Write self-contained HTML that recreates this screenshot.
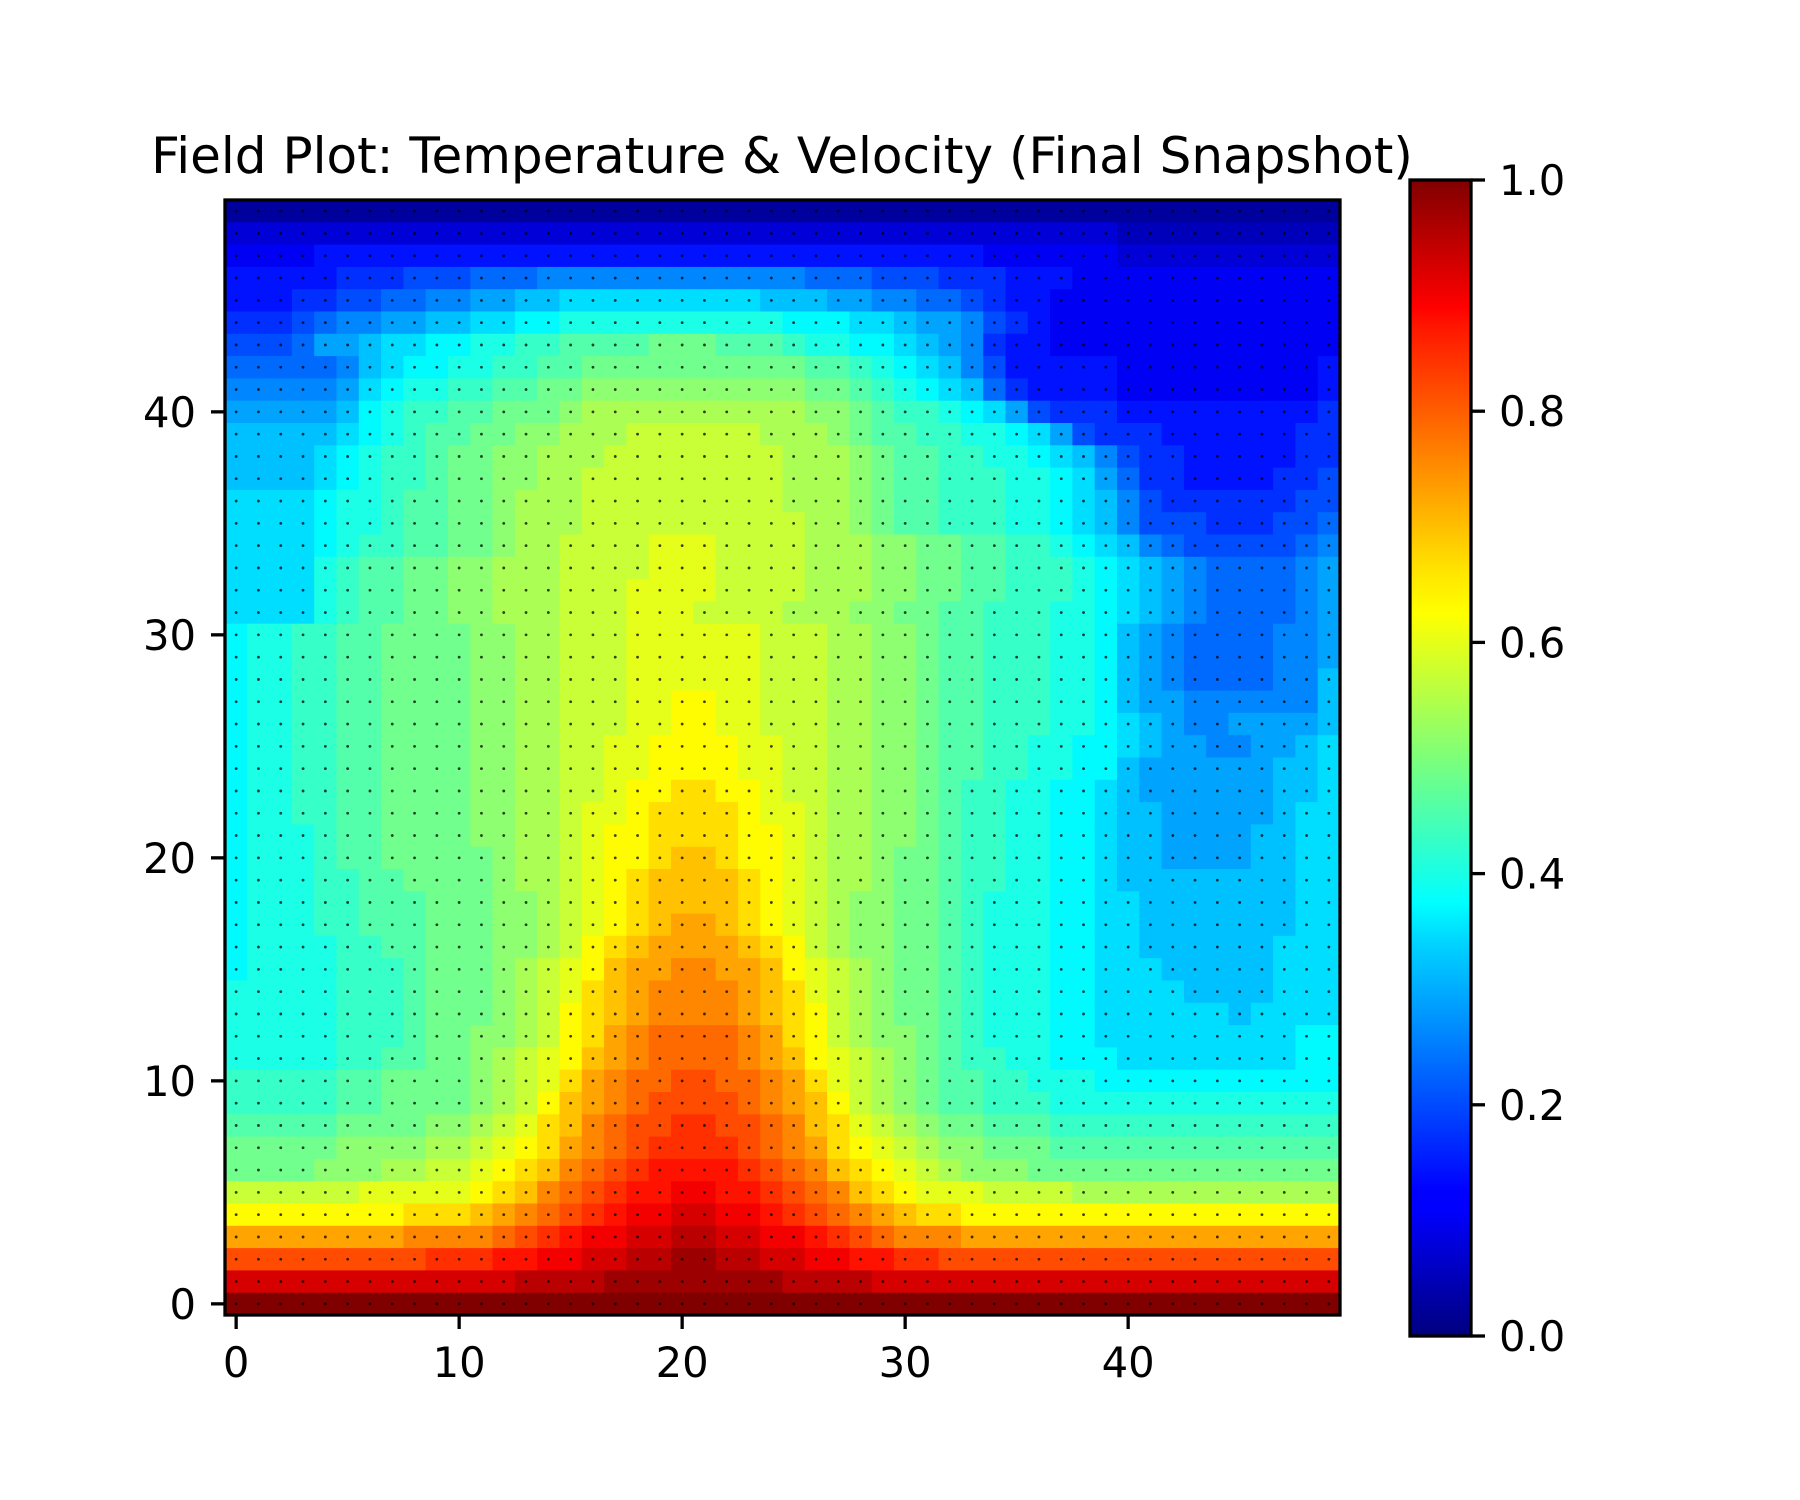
<!DOCTYPE html>
<html><head><meta charset="utf-8"><style>
html,body{margin:0;padding:0;background:#fff;}
svg{display:block;font-family:"DejaVu Sans","Liberation Sans",sans-serif;}
</style></head><body>
<svg id="chart" width="1800" height="1500" viewBox="0 0 1800 1500" xmlns="http://www.w3.org/2000/svg">
<defs>
<linearGradient id="jetGrad" x1="0" y1="1" x2="0" y2="0">
<stop offset="0" stop-color="#000080"/><stop offset="0.11" stop-color="#0000ff"/><stop offset="0.125" stop-color="#0000ff"/>
<stop offset="0.34" stop-color="#00d4ff"/><stop offset="0.375" stop-color="#00ffff"/><stop offset="0.5" stop-color="#7dff7a"/>
<stop offset="0.625" stop-color="#ffff00"/><stop offset="0.66" stop-color="#ffe600"/><stop offset="0.875" stop-color="#ff1400"/>
<stop offset="0.89" stop-color="#ff0000"/><stop offset="1" stop-color="#800000"/>
</linearGradient>
</defs>
<text x="782" y="173" font-size="50" text-anchor="middle">Field Plot: Temperature &amp; Velocity (Final Snapshot)</text>
<g id="cells"></g>
<g id="dots"></g>
<rect x="225" y="200" width="1115" height="1115" fill="none" stroke="#000" stroke-width="3.3"/>
<g id="xaxis"></g>
<g id="yaxis"></g>
<rect x="1410" y="180" width="61" height="1156" fill="url(#jetGrad)" stroke="#000" stroke-width="3.3"/>
<g id="cbaxis"></g>
</svg>
<script>
const CHARS = "0123456789abcdefghijklmnopqrstuvwxyz";
// temperature rows, top (y=49) to bottom (y=0); each char = level/35, groups of 10 columns
const tempRows = [
"1111111111 1111111111 1111111111 1111111111 1111111111",
"3333333333 3333333333 3333333333 3333333333 2222222222",
"4444555555 5555555555 5555555555 5555444444 3333333333",
"5555566677 7888999999 9999998887 7766655544 4444444444",
"5556677889 9aabbccccc ccccbbbaa9 9887655444 4444444444",
"6667899aab bccddeeeee eeeeedddcc baa9765444 4444444444",
"7778aabccd deeffggggh hhgggfeedd cba9655444 4444444444",
"888889bcdd eeffgghhhh hhhhhhggfe dcb9755555 4444444445",
"99999acdee ffgghhiiii iiiiiihhgf edcb865555 4444444445",
"aaaaabdeff gghhhijjjj jjjjjjiihg ffedca7666 5555555556",
"bbbbbcdefg ghhiijjjkk kkkkjjjihg gffeedca76 6655555566",
"bbbbcdeffg hhiijjjkkk kkkkkjjjih ggffeedcb9 7665555566",
"bbbbcdeffg hhiijjkkkk kkkkkjjjih ggfffeedca 8665555667",
"ccccdeefgg hhijjjkkkk kkkkkjjjih ggfffeedcb 9766666677",
"ccccdeefgg hhijjjkkkk kkkkkkjjih ggfffeedcb 9777666778",
"ccccdeffgg hhijjkkkkl llkkkkjjji ihhggffedc b987777789",
"ccccefgghh iijjjkkkkl llkkkkjjji ihhggfffed cba988889a",
"ccccefgghh iijjjkkkll llkkkkjjji ihhggfffed cba988889a",
"ccccefgghh iijjjkkkll lkkkkjjjii hhggfffeed cba988889a",
"deeffgghhh hiijjkkkll llllkkkjji ihggfffeed ba9888899a",
"deeffgghhh hiijjkkkll llllkkkjji ihggfffeed ba9888899a",
"deeffgghhh hiijjkkkll llllkkkjji ihggfffeed ba9888899b",
"deeffgghhh hiijjkkkll mmllkkkjji ihggfffeed baa999999b",
"deeffgghhh hiijjkkkll mmllkkkjji ihggfffeed cba99aaaab",
"deeffgghhh hiijjkkllm mmmllkkjji ihggffeedd cbaa99aabc",
"deeffgghhh hiijjkkllm mmmllkkjji ihggffeedd baaaaaabbc",
"deeffgghhh hiijjkklmm nnmmlkkjji ihgffeeddc baaaaaabbc",
"deeffgghhh hiijjkllmn nnnmllkjji ihgffeeddc bbaaaaabcc",
"deeefgghhh hiijjklmmn nnnmmlkjji ihgffeeddc bbaaaabbcc",
"deeefgghhh hhijjklmmn oonmmlkjji hhgffeeddc bbaaaabbcc",
"deeeffgghh hhijjklmno ooonmlkjji hhgffeeddc bbbbbbbbcc",
"deeeffgggh hhiijklmno ooonmlkjii hhgfeeeddc cbbbbbbbcc",
"deeeffgggh hhiijklmno pponmlkjii hhgfeeeddc cbbbbbbbcc",
"deeeeffggh hhiijkmnop ppponmkjii hhgfeeeddc cbbbbbbccc",
"deeeefffgh hhijklmopp qqppomlkji hhgfeeeddc ccbbbbbccc",
"eeeeefffgh hhijklnopq qqqponlkji hhgfeeeddc cccbbbbccc",
"eeeeefffgh hhijkmnopq qqqponmkji hhgfeeeddc cccccbcccc",
"eeeeefffgh hiijkmnpqr rrrqpnmkji ihgfeeeddc ccccccccdd",
"eeeeeffggh hijklmopqr rrrqpomlkj ihgffeeddd ccccccccdd",
"fffffgghhh hijklnpqrr ssrrqpnlkj ihggffeeed dddddddddd",
"fffffgghhh hijkmopqrs sssrqpomkj ihggfffeee eeeeeeeeee",
"ggggghhhhi ijklnoqrss ttssrqonlk jihhgggfff ffffffffff",
"hhhhhiiiij jklmnpqrst tttsrqpnml kjiihhhggg gggggggggg",
"hhhhiiijjk klmnoqrstu uuutsrqonm lkjiiihhhh hhhhhhhhhh",
"kkkkkkllll lmnoqrstuu vvuutsrqon mlllkkkkjj jjjjjjjjjj",
"mmmmmmmmnn nopqrstuvv wwvvutsrqp onnmmmmmmm mmmmmmmmmm",
"ppppppppqq qqrstuvvww xxwwvvutsr qqqppppppp pppppppppp",
"ssssssssst ttuuvvwwxx yyxxwwvvuu ttssssssss ssssssssss",
"wwwwwwwwww wwwxxxxyyy yyyyyxxxxw wwwwwwwwww wwwwwwwwww",
"zzzzzzzzzz zzzzzzzzzz zzzzzzzzzz zzzzzzzzzz zzzzzzzzzz"
];
const xTicks = [0, 10, 20, 30, 40];
const yTicks = [0, 10, 20, 30, 40];
const cbTicks = [0.0, 0.2, 0.4, 0.6, 0.8, 1.0];
const cbTickLabels = ["0.0", "0.2", "0.4", "0.6", "0.8", "1.0"];

const NS = "http://www.w3.org/2000/svg";
const AX = {left: 225, top: 200, size: 1115, n: 50};
const cell = AX.size / AX.n;
function xScale(i) { return AX.left + (i + 0.5) * cell; }
function yScale(j) { return AX.top + AX.size - (j + 0.5) * cell; }
function cbScale(v) { return 1336 - v * 1156; }
function jet(v) {
  const c = t => Math.max(0, Math.min(1, t));
  const r = c(1.5 - Math.abs(4 * v - 3)), g = c(1.5 - Math.abs(4 * v - 2)), b = c(1.5 - Math.abs(4 * v - 1));
  return "rgb(" + Math.round(r * 255) + "," + Math.round(g * 255) + "," + Math.round(b * 255) + ")";
}
function mk(tag, attrs) { const e = document.createElementNS(NS, tag); for (const k in attrs) e.setAttribute(k, attrs[k]); return e; }

const cellsG = document.getElementById("cells"), dotsG = document.getElementById("dots");
const nRows = tempRows.length;
tempRows.forEach((rowRaw, r) => {
  const row = rowRaw.replace(/ /g, "");
  const j = nRows - 1 - r;
  for (let i = 0; i < Math.min(row.length, AX.n); i++) {
    const v = CHARS.indexOf(row[i]) / 35;
    const rect = mk("rect", {x: (xScale(i) - cell / 2).toFixed(2), y: (yScale(j) - cell / 2).toFixed(2), width: (cell + 0.6).toFixed(2), height: (cell + 0.6).toFixed(2), fill: jet(v)});
    
    
    cellsG.appendChild(rect);
    const d = mk("circle", {cx: xScale(i).toFixed(2), cy: yScale(j).toFixed(2), r: 1.4, fill: "#000", opacity: 0.75});
    
    
    dotsG.appendChild(d);
  }
});

const xg = document.getElementById("xaxis");
xTicks.forEach(t => {
  const x = xScale(t);
  const ln = mk("line", {x1: x, x2: x, y1: 1315, y2: 1329, stroke: "#000", "stroke-width": 3.3});
  
  
  xg.appendChild(ln);
  const tx = mk("text", {x: x, y: 1377, "font-size": 41.7, "text-anchor": "middle"});
  
  
  tx.textContent = String(t);
  xg.appendChild(tx);
});
const yg = document.getElementById("yaxis");
yTicks.forEach(t => {
  const y = yScale(t);
  const ln = mk("line", {x1: 211, x2: 225, y1: y, y2: y, stroke: "#000", "stroke-width": 3.3});
  
  
  yg.appendChild(ln);
  const tx = mk("text", {x: 196, y: y + 15, "font-size": 41.7, "text-anchor": "end"});
  
  
  tx.textContent = String(t);
  yg.appendChild(tx);
});
const cg = document.getElementById("cbaxis");
cbTicks.forEach((t, k) => {
  const y = cbScale(t);
  const ln = mk("line", {x1: 1471, x2: 1485, y1: y, y2: y, stroke: "#000", "stroke-width": 3.3});
  
  
  cg.appendChild(ln);
  const tx = mk("text", {x: 1499, y: y + 15, "font-size": 41.7});
  
  
  tx.textContent = cbTickLabels[k];
  cg.appendChild(tx);
});
</script>
</body></html>
